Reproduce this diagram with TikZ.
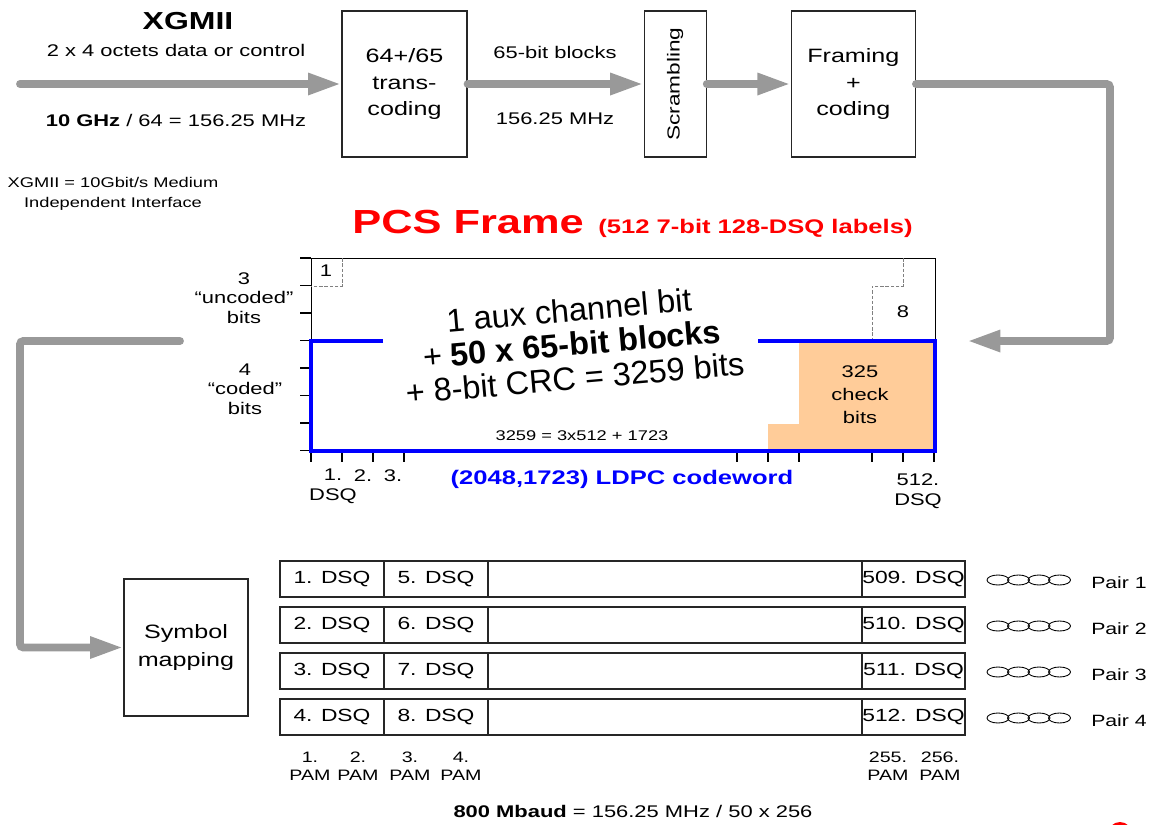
\documentclass[tikz,border=0pt]{standalone}
\usepackage{fontspec}
\setmainfont[FakeStretch=1.3]{Liberation Sans}
\newfontfamily\plainsans{Liberation Sans}
\usetikzlibrary{arrows.meta, positioning}
\definecolor{flow}{RGB}{153,153,153}
\definecolor{peach}{RGB}{255,204,153}

\begin{document}
\begin{tikzpicture}[x=0.02cm, y=-0.02cm,
        blk/.style={rectangle, draw=black!85, line width=0.7pt, inner sep=0pt,
                    align=center, font=\fontsize{11}{15.3}\selectfont,
                    minimum height=2.92cm},
        cell/.style={rectangle, draw=black!85, line width=0.7pt, inner sep=0pt,
                     minimum height=0.72cm, font=\fontsize{10}{12}\selectfont},
        lbl/.style={align=center, inner sep=1pt, font=\fontsize{9.6}{11}\selectfont},
        note/.style={align=center, inner sep=1pt, font=\fontsize{8}{11.3}\selectfont},
        arr/.style={-{Triangle[length=19pt,width=11.5pt]}, line width=4.5pt,
                    flow, line cap=round, rounded corners=2pt},
        cw/.style={blue, line width=2.3pt},
        tk/.style={line width=0.7pt},
        dashcell/.style={gray, dash pattern=on 2pt off 1pt, line width=0.5pt},
        node distance=0.8cm]
  \useasboundingbox (0,0) rectangle (1150,825);

  % XGMII input
  \node[font=\bfseries\fontsize{14}{16}\selectfont] (xg) at (188,21) {XGMII};
  \node[lbl] (oct) at (176,50) {2 x 4 octets data or control};
  \node[lbl] (clk) at (176,120) {\textbf{10 GHz} / 64 = 156.25 MHz};
  \node[note] (def) at (113,194) {XGMII = 10Gbit/s Medium\\Independent Interface};
  \coordinate (in) at (20,84);

  % transmit chain
  \node[blk, minimum width=2.5cm] (trans) at (404.5,84) {64+/65\\trans-\\coding};
  \node[blk, minimum width=1.24cm, right=3.52cm of trans,
        font=\fontsize{9.9}{12}\selectfont] (scr) {\rotatebox{90}{Scrambling}};
  \node[blk, minimum width=2.48cm, right=1.68cm of scr] (frm) {Framing\\+\\coding};
  \node[lbl] (blk65) at (555,52) {65-bit blocks};
  \node[lbl] (rate) at (555,119) {156.25 MHz};
  \draw[arr] (in) -- (trans);
  \draw[arr] (trans) -- (scr);
  \draw[arr] (scr) -- (frm);

  % PCS frame
  \node[red, font=\bfseries\fontsize{19}{22}\selectfont, anchor=base west, inner sep=0pt]
        (pcst) at (352,233) {PCS Frame};
  \node[red, font=\bfseries\fontsize{11.2}{13}\selectfont, anchor=base west, inner sep=0pt]
        (pcsl) at (598,233) {(512 7-bit 128-DSQ labels)};
  \fill[peach] (799,341) rectangle (935,451) (768,424) rectangle (799,451);
  \node[draw, line width=0.7pt, inner sep=0pt, anchor=north west,
        minimum width=12.48cm, minimum height=3.86cm] (pcs) at (311,258) {};
  \foreach \k in {0,...,7}
    \draw[tk] (300,{258+27.5*\k}) -- (311,{258+27.5*\k});
  \foreach \x in {311,342,373,404,737,768,799,872,903,934}
    \draw[tk] (\x,451) -- (\x,462);
  \draw[dashcell] (342,258) -- (342,286) -- (311,286);
  \draw[dashcell] (903,258) -- (903,286) -- (872,286) -- (872,341);
  \draw[cw] (383,341) -| (311,451) -| (935,341) -- (758,341);

  \node[lbl] (c1) at (326,271) {1};
  \node[lbl] (c8) at (903,312) {8};
  \node[rotate=5, align=center, inner sep=0pt,
        font=\plainsans\fontsize{18.5}{19.4}\selectfont] (bits) at (572,344)
    {1 aux channel bit\\+ \textbf{50 x 65-bit blocks}\\+ 8-bit CRC = 3259 bits};
  \node[note] (split) at (582,436) {3259 = 3x512 + 1723};
  \node[lbl, font=\fontsize{9.6}{13}\selectfont] (chk) at (860,395) {325\\check\\bits};
  \node[blue, font=\bfseries\fontsize{11.2}{13}\selectfont] (ldpc) at (622,479)
    {(2048,1723) LDPC codeword};
  \node[lbl] (unc) at (244,298) {3\\“uncoded”\\bits};
  \node[lbl] (cod) at (245,389) {4\\“coded”\\bits};
  \node[lbl, font=\fontsize{9.6}{11.5}\selectfont] (q1) at (333,486.5) {1.\\DSQ};
  \node[lbl] (q2) at (363,476) {2.};
  \node[lbl] (q3) at (393,476) {3.};
  \node[lbl, font=\fontsize{9.6}{11.3}\selectfont] (q512) at (918,491) {512.\\DSQ};

  % feedback paths
  \coordinate (rt) at (1110,84);
  \coordinate (rin) at (967,341);
  \draw[arr] (frm.east) -- (rt) |- (rin);
  \coordinate (lout) at (180,341);
  \coordinate (lt) at (20,341);
  \node[blk, minimum width=2.48cm, minimum height=2.74cm,
        font=\fontsize{11}{15.9}\selectfont] (sym) at (186,647.5) {Symbol\\mapping};
  \draw[arr] (lout) -- (lt) |- (sym);

  % four pairs
  \foreach \r/\a/\b/\c in {1/1/5/509, 2/2/6/510, 3/3/7/511, 4/4/8/512} {
    \pgfmathsetmacro{\yy}{579+46*(\r-1)}
    \node[cell, minimum width=2.08cm] (p\r-a) at (332,\yy) {\a. DSQ};
    \node[cell, minimum width=2.08cm] (p\r-b) at (436,\yy) {\b. DSQ};
    \node[cell, minimum width=7.48cm] (p\r-m) at (675,\yy) {};
    \node[cell, minimum width=2.06cm] (p\r-c) at (913.5,\yy) {\c. DSQ};
    \foreach \k in {0,...,3}
      \draw[line width=0.5pt] ({998+20.5*\k},\yy+1) ellipse (0.22cm and 0.1cm);
    \node[lbl, font=\fontsize{9.3}{11}\selectfont] (pair\r) at (1119,\yy+4) {Pair \r};
  }
  \foreach \x/\n in {310/1, 358/2, 410/3, 461/4, 888/255, 940/256}
    \node[lbl, font=\fontsize{8.6}{10.2}\selectfont] (pam\n) at (\x,766) {\n.\\PAM};
  \node[lbl] (baud) at (633,811) {\textbf{800 Mbaud} = 156.25 MHz / 50 x 256};
  \fill[red] (1120,834) circle (0.24cm);
\end{tikzpicture}
\end{document}
